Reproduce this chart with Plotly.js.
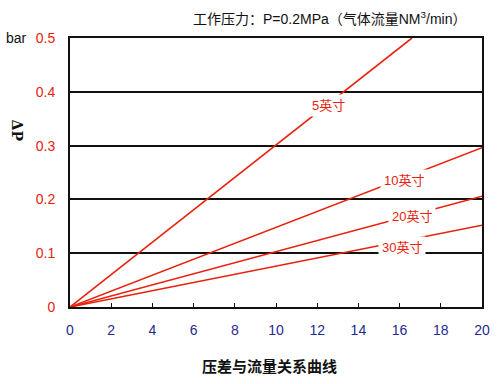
<!DOCTYPE html>
<html><head><meta charset="utf-8">
<script src="https://cdn.plot.ly/plotly-3.0.1.min.js"></script>
<style>body{margin:0;background:#fff}</style>
</head><body><div id="c" style="width:500px;height:384px"></div>
<script>
const seriesNames = ["5英寸","10英寸","20英寸","30英寸"];
const seriesX = [[0,16.6],[0,20],[0,20],[0,20]];
const seriesY = [[0,0.5],[0,0.296],[0,0.206],[0,0.152]];
const labelX = [12.55,16.2,16.6,16.1];
const labelY = [0.375,0.236,0.169,0.110];
const xTicks = [0,2,4,6,8,10,12,14,16,18,20];
const yTicks = [0,0.1,0.2,0.3,0.4,0.5];
const yTickText = ["0","0.1","0.2","0.3","0.4","0.5"];

const red = "#e8220e";
const traces = seriesNames.map((n,i)=>({x:seriesX[i],y:seriesY[i],mode:"lines",line:{color:red,width:1.6},name:n,showlegend:false,hoverinfo:"skip"}));
const font = "Arial, 'Noto Sans CJK SC', sans-serif";
const annotations = seriesNames.map((n,i)=>({x:labelX[i],y:labelY[i],xref:"x",yref:"y",xanchor:"center",yanchor:"middle",text:n,showarrow:false,font:{family:font,size:13,color:red},bgcolor:"#fff",borderpad:3}));
annotations.push({xref:"paper",yref:"paper",x:0.63,y:1.075,xanchor:"center",yanchor:"middle",text:"工作压力：P=0.2MPa（气体流量NM<sup>3</sup>/min）",showarrow:false,font:{family:font,size:14,color:"#111"}});
annotations.push({xref:"paper",yref:"paper",x:0.485,y:-0.22,xanchor:"center",yanchor:"middle",text:"<b>压差与流量关系曲线</b>",showarrow:false,font:{family:font,size:15,color:"#111"}});
annotations.push({xref:"paper",yref:"paper",x:-0.13,y:1.0,xanchor:"center",yanchor:"middle",text:"bar",showarrow:false,font:{family:font,size:14,color:"#111"}});
annotations.push({xref:"paper",yref:"paper",x:-0.128,y:0.655,xanchor:"center",yanchor:"middle",text:"<b>ΔP</b>",textangle:90,showarrow:false,font:{family:"DejaVu Serif, serif",size:14,color:"#111"}});

const layout = {
  width:500,height:384,
  margin:{l:70,r:18,t:38,b:77},
  paper_bgcolor:"#fff",plot_bgcolor:"#fff",
  xaxis:{range:[0,20],tickvals:xTicks,showgrid:false,zeroline:false,showline:true,linecolor:"#111",linewidth:2,mirror:true,ticks:"inside",ticklen:4,tickcolor:"#111",tickfont:{family:font,size:14,color:"#1f2b8f"},ticklabelstandoff:9},
  yaxis:{range:[0,0.5],tickvals:yTicks,ticktext:yTickText,showgrid:true,gridcolor:"#111",gridwidth:2,zeroline:false,showline:true,linecolor:"#111",linewidth:2,mirror:true,ticks:"",tickfont:{family:font,size:14,color:"#e8220e"},ticklabelstandoff:10},
  annotations:annotations,
  showlegend:false
};
Plotly.newPlot("c",traces,layout,{staticPlot:true});
</script></body></html>
